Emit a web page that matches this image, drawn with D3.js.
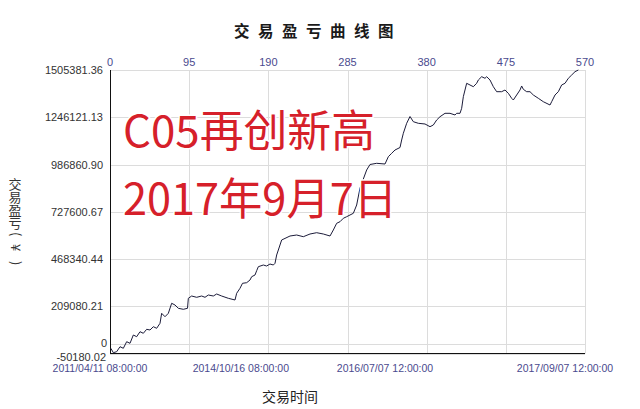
<!DOCTYPE html>
<html><head><meta charset="utf-8">
<script src="https://cdn.jsdelivr.net/npm/d3@7"></script>
<style>
html,body{margin:0;padding:0;background:#fff;}
svg{display:block;}
</style></head>
<body>
<svg id="chart" width="640" height="409"></svg>
<script>
// ---- data ----
const tradeIndex = [1,4,8,12,16,20,24,28,32,36,40,44,48,52,56,60,62,66,70,74,78,82,88,93,94,98,104,110,114,118,124,128,134,142,150,152,156,159,164,168,170,174,176,178,184,188,192,196,198,200,202,206,216,224,232,240,248,256,264,268,272,276,280,284,288,292,296,300,304,308,312,320,330,334,338,342,348,350,352,356,360,364,370,378,384,388,392,396,402,408,414,416,420,422,424,428,432,436,440,442,446,450,452,456,460,464,470,474,478,482,484,488,492,494,496,500,504,508,514,520,528,530,534,538,542,546,550,554,558,562];
const profit = [-21600,-45800,-40300,-12900,-21600,14600,5800,51300,42000,69400,60700,82600,78800,96900,88100,115500,170400,151700,170400,225300,215900,197800,192300,197800,252700,265300,258200,265300,258200,270800,265300,276300,265300,252700,243400,280100,307600,335000,338300,353100,371200,380600,404100,426100,435400,429900,440900,435400,444700,490300,517700,572600,594500,600000,590700,605500,612700,605500,594500,627500,664200,673000,691700,700400,709800,719100,764600,857900,907300,956700,986900,993400,989600,1029700,1048300,1066400,1080100,1121300,1158100,1212900,1250200,1221700,1212900,1209100,1194300,1203600,1231000,1249100,1267800,1267800,1258500,1267800,1267800,1295200,1358900,1432400,1423100,1413800,1432400,1450500,1468600,1459800,1468600,1450500,1413800,1386300,1386300,1395600,1377500,1350100,1340800,1368200,1395600,1417600,1399500,1386300,1386300,1368200,1350100,1331400,1313300,1331400,1368200,1386300,1423100,1432400,1459800,1477900,1496100,1505381.36];
const yTickValues = [-50180.02, 209080.21, 468340.44, 727600.67, 986860.90, 1246121.13, 1505381.36];
const yTickLabels = ["-50180.02","209080.21","468340.44","727600.67","986860.90","1246121.13","1505381.36"];
const topTickValues = [0,95,190,285,380,475,570];
const dateTickIndex = [-12,157,330,546];
const dateTickLabels = ["2011/04/11 08:00:00","2014/10/16 08:00:00","2016/07/07 12:00:00","2017/09/07 12:00:00"];
const titleText = "交易盈亏曲线图";
const yTitleText = "交易盈亏(¥)";
const xTitleText = "交易时间";
const bannerLines = ["C05再创新高","2017年9月7日"];

// ---- drawing ----
const svg = d3.select("#chart");
const L = 110, R = 585, T = 70, B = 353.5;
const x = d3.scaleLinear().domain([0,570]).range([L,R]);
const y = d3.scaleLinear().domain([yTickValues[0], yTickValues[yTickValues.length-1]]).range([B,T]);
const axisColor = "#4a4a8e";

svg.append("rect").attr("width",640).attr("height",409).attr("fill","#fff");

// grid
const grid = svg.append("g").attr("stroke","#dcdcdc").attr("stroke-width",1);
grid.selectAll("line.h").data(yTickValues.concat([0])).join("line")
  .attr("x1",L).attr("x2",R)
  .attr("y1",d=>Math.round(y(d))+0.5).attr("y2",d=>Math.round(y(d))+0.5);
grid.selectAll("line.v").data(topTickValues.slice(1)).join("line")
  .attr("y1",T).attr("y2",B)
  .attr("x1",d=>Math.round(x(d))+0.5).attr("x2",d=>Math.round(x(d))+0.5);

// axes lines
svg.append("line").attr("x1",L+0.5).attr("x2",L+0.5).attr("y1",T).attr("y2",B+0.5).attr("stroke","#111").attr("stroke-width",1);
svg.append("line").attr("x1",L).attr("x2",R).attr("y1",B).attr("y2",B).attr("stroke","#111").attr("stroke-width",1.2);

// y labels
const yl = svg.append("g").attr("font-family","Liberation Sans, Arial, sans-serif").attr("font-size",11).attr("fill","#333");
yl.selectAll("text").data(yTickValues).join("text")
  .attr("x",(d,i)=> i===0 ? 106 : 103)
  .attr("y",(d,i)=> i===0 ? y(d) + 7.5 : y(d) + 4)
  .attr("text-anchor","end")
  .text((d,i)=>yTickLabels[i]);
yl.append("text").attr("x",107).attr("y",y(0)+3).attr("text-anchor","end").text("0");

// top axis labels
svg.append("g").attr("font-family","Liberation Sans, Arial, sans-serif").attr("font-size",11).attr("fill",axisColor)
  .selectAll("text").data(topTickValues).join("text")
  .attr("x",d=>x(d)).attr("y",66).attr("text-anchor","middle").text(d=>d);

// bottom date labels
svg.append("g").attr("font-family","Liberation Sans, Arial, sans-serif").attr("font-size",10.5).attr("fill",axisColor)
  .selectAll("text").data(dateTickIndex).join("text")
  .attr("x",d=>x(d)).attr("y",372).attr("text-anchor","middle").text((d,i)=>dateTickLabels[i]);

// line
const line = d3.line().x((d,i)=>x(tradeIndex[i])).y(d=>y(d));
svg.append("path").datum(profit).attr("d",line).attr("fill","none")
  .attr("stroke","#1c1c3a").attr("stroke-width",1).attr("stroke-linejoin","round");

// title
svg.append("text").attr("x",318).attr("y",37).attr("text-anchor","middle")
  .attr("font-family","Noto Sans CJK SC, sans-serif").attr("font-weight",700).attr("font-size",15.5)
  .attr("letter-spacing",8.5).attr("fill","#1a1a1a").text(titleText);

// x title
svg.append("text").attr("x",290).attr("y",402).attr("text-anchor","middle")
  .attr("font-family","Noto Sans CJK SC, sans-serif").attr("font-size",14).attr("fill","#222").text(xTitleText);

// y title: one text rotated 90deg; CJK glyphs counter-rotated to stand upright
const fs = 13;
const chars = Array.from(yTitleText);
const isCJK = c => /[\u3400-\u9fff]/.test(c);
const latinPos = [232, 244, 261];
let li = 0;
const xs = [], ys = [], rs = [];
chars.forEach((c,i)=>{
  if (isCJK(c)) { xs.push(178 + i*12.8 + 0.88*fs); ys.push(0); rs.push(-90); }
  else { xs.push(latinPos[li++]); ys.push(-2.5); rs.push(0); }
});
svg.append("text").attr("transform","translate(8.5,0) rotate(90)")
  .attr("font-family","Noto Sans CJK SC, sans-serif").attr("font-size",fs).attr("fill","#333")
  .attr("x",xs.join(" ")).attr("y",ys.join(" ")).attr("rotate",rs.join(" "))
  .text(yTitleText);

// banner text
const bn = svg.append("g").attr("font-family","Noto Sans CJK SC, sans-serif").attr("font-size",44)
  .attr("fill","#d6202a").attr("stroke","#fff").attr("stroke-width",3).attr("paint-order","stroke").attr("stroke-linejoin","round");
bn.append("text").attr("x",123).attr("y",147).attr("textLength",252).attr("lengthAdjust","spacingAndGlyphs").text(bannerLines[0]);
bn.append("text").attr("x",123).attr("y",215).attr("textLength",274).attr("lengthAdjust","spacingAndGlyphs").text(bannerLines[1]);
</script>
</body></html>
